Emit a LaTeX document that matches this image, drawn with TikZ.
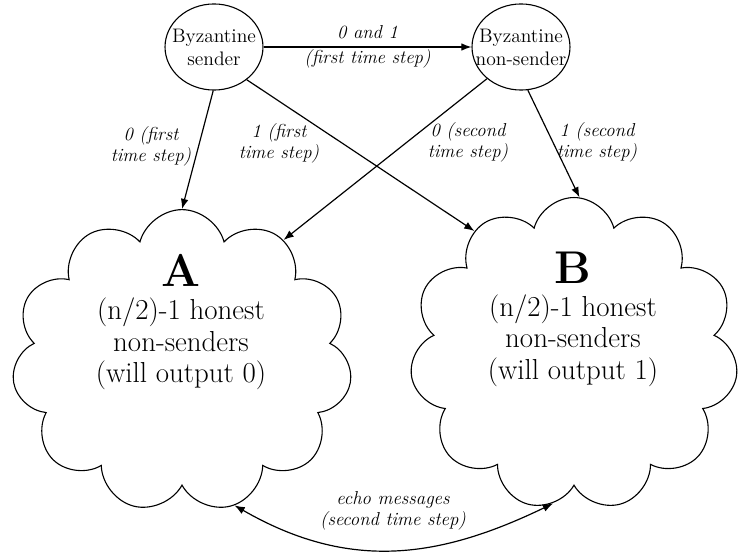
\documentclass[tikz,border=0pt]{standalone}
\usetikzlibrary{shapes.geometric,shapes.symbols,arrows.meta}
\begin{document}
\begin{tikzpicture}[x=0.588pt,y=-0.588pt,
  byz/.style={ellipse, draw, line width=0.65pt, minimum width=57.6pt, minimum height=50.6pt, inner xsep=-7pt, inner ysep=4pt, align=center, font=\fontsize{11.5}{13.5}\selectfont},
  puff/.style={cloud, draw, line width=0.65pt, cloud puffs=11, cloud puff arc=150, cloud ignores aspect},
  big/.style={align=center, font=\fontsize{17}{18.5}\selectfont},
  lab/.style={align=center, font=\fontsize{11}{12.5}\selectfont\itshape},
  conn/.style={line width=0.7pt, -{Latex[length=6pt,width=4.5pt]}}]
\useasboundingbox (0,0) rectangle (739,552);

\node[byz] (S) at (214,47) {Byzantine\\sender};
\node[byz] (N) at (521,47) {Byzantine\\non-sender};

\node[puff, minimum width=200pt, minimum height=178pt] (A) at (182,361) {};
\node[puff, minimum width=193pt, minimum height=184pt] (B) at (574,354) {};

\node[big] (At) at (181,322) {{\fontsize{27}{30}\selectfont\bfseries A}\\[1pt](n/2)-1 honest\\non-senders\\(will output 0)};
\node[big] (Bt) at (573,319) {{\fontsize{27}{30}\selectfont\bfseries B}\\[1pt](n/2)-1 honest\\non-senders\\(will output 1)};

\draw[conn] (S) -- node[lab] {0 and 1\\[2pt](first time step)} (N);
\draw[conn] (S.-91) -- (A.90);
\draw[conn] (S.-45) -- (B.129);
\draw[conn] (N.-137) -- (A.50);
\draw[conn] (N.-81) -- (B.88);

\node[lab] (l1) at (151,146) {0 (first\\time step)};
\node[lab] (l2) at (279,143) {1 (first\\time step)};
\node[lab] (l3) at (468,142) {0 (second\\time step)};
\node[lab] (l4) at (597,142) {1 (second\\time step)};

\draw[line width=0.7pt, {Latex[length=6pt,width=4.5pt]}-{Latex[length=6pt,width=4.5pt]}] (A.-70) .. controls (350,572) and (440,558) .. (B.-98);
\node[lab] (l5) at (393,511) {echo messages\\(second time step)};
\end{tikzpicture}
\end{document}
